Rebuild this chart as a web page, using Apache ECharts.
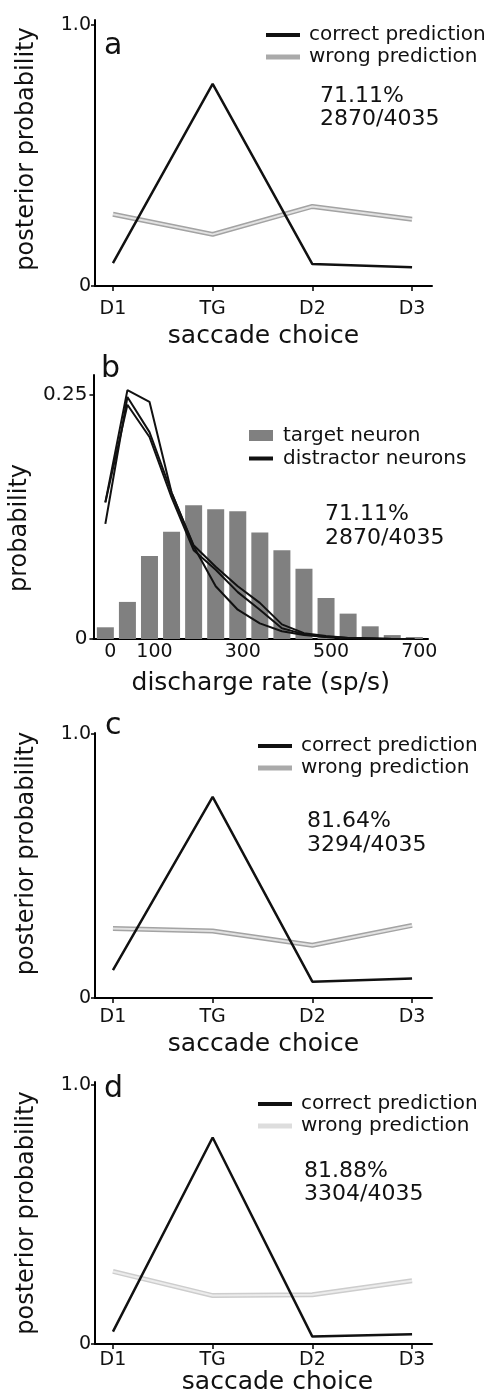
<!DOCTYPE html>
<html>
<head>
<meta charset="utf-8">
<script src="https://cdn.jsdelivr.net/npm/echarts@6/dist/echarts.min.js"></script>
<style>
    html, body { margin: 0; padding: 0; background: #fff; }
    #main { width: 495px; height: 1396px; }
</style>
</head>
<body>
<div id="main"></div>
<script>
var choices = ['D1', 'TG', 'D2', 'D3']
var choiceX = [0, 1, 2, 3]

// a: posterior, all neurons
var correctA = [0.088, 0.775, 0.084, 0.072]
var wrongA = [0.275, 0.198, 0.305, 0.256]
// c
var correctC = [0.106, 0.762, 0.062, 0.074]
var wrongC = [0.263, 0.254, 0.200, 0.275]
// d
var correctD = [0.048, 0.796, 0.029, 0.038]
var wrongD = [0.280, 0.187, 0.190, 0.244]

// b: discharge rate histogram (bin centres, sp/s)
var rateBins = [0, 50, 100, 150, 200, 250, 300, 350, 400, 450, 500, 550, 600, 650, 700]
var targetProb = [0.012, 0.038, 0.085, 0.110, 0.137, 0.133, 0.131, 0.109, 0.091, 0.072, 0.042, 0.026, 0.013, 0.004, 0.002]
var distractor1 = [0.140, 0.255, 0.243, 0.150, 0.095, 0.054, 0.030, 0.016, 0.008, 0.004, 0.002, 0.001, 0.0005, 0, 0]
var distractor2 = [0.118, 0.248, 0.212, 0.150, 0.096, 0.074, 0.054, 0.037, 0.015, 0.006, 0.003, 0.001, 0.0005, 0, 0]
var distractor3 = [0.140, 0.240, 0.207, 0.145, 0.091, 0.071, 0.048, 0.030, 0.011, 0.005, 0.002, 0.001, 0.0005, 0, 0]
var rateTicks = [0, 100, 300, 500, 700]

var stats = ['71.11%\n2870/4035', '71.11%\n2870/4035', '81.64%\n3294/4035', '81.88%\n3304/4035']

var font = 'DejaVu Sans'

function pairs(xs, ys) {
    var out = []
    for (var i = 0; i < xs.length; i++) {
        out.push([xs[i], ys[i]])
    }
    return out
}

function choiceXAxis(grid, margin, gap, namePad) {
    return {
        gridIndex: grid,
        type: 'value',
        min: -0.18,
        max: 3.2,
        name: 'saccade choice',
        nameLocation: 'middle',
        nameGap: gap,
        nameTextStyle: { fontFamily: font, fontSize: 25, color: '#111', padding: namePad || 0 },
        axisLine: { show: true, onZero: false, lineStyle: { color: '#000', width: 2 } },
        axisTick: { show: true, length: 5, customValues: choiceX, lineStyle: { color: '#000', width: 1.5 } },
        axisLabel: {
            customValues: choiceX, margin: margin,
            fontFamily: font, fontSize: 19, color: '#111',
            formatter: function (v) { return choices[Math.round(v)] }
        },
        splitLine: { show: false }
    }
}

function probYAxis(grid, max, pad) {
    return {
        gridIndex: grid,
        type: 'value',
        min: 0,
        max: max,
        name: 'posterior probability',
        nameLocation: 'middle',
        nameGap: 56,
        nameTextStyle: { fontFamily: font, fontSize: 24, color: '#111', padding: pad || 0 },
        axisLine: { show: true, onZero: false, lineStyle: { color: '#000', width: 2 } },
        axisTick: { show: true, length: 4, customValues: [0, 1], lineStyle: { color: '#000', width: 1.5 } },
        axisLabel: {
            customValues: [0, 1], margin: 4,
            fontFamily: font, fontSize: 19, color: '#111',
            formatter: function (v) { return v === 0 ? '0' : '1.0' }
        },
        splitLine: { show: false }
    }
}

// the wrong-prediction trace is a grey outline with a pale core
function postSeries(idx, correct, wrong, outer, inner) {
    return [
        {
            name: 'wrong prediction', type: 'line', xAxisIndex: idx, yAxisIndex: idx,
            data: pairs(choiceX, wrong), symbol: 'none', silent: true,
            lineStyle: { color: outer, width: 5 }, z: 2
        },
        {
            name: 'wrong core', type: 'line', xAxisIndex: idx, yAxisIndex: idx,
            data: pairs(choiceX, wrong), symbol: 'none', silent: true,
            lineStyle: { color: inner, width: 2 }, z: 3
        },
        {
            name: 'correct prediction', type: 'line', xAxisIndex: idx, yAxisIndex: idx,
            data: pairs(choiceX, correct), symbol: 'none', silent: true,
            lineStyle: { color: '#111', width: 2.5 }, z: 4
        }
    ]
}

function postLegend(left, top, wrongColor) {
    return {
        orient: 'vertical', left: left, top: top, padding: 0,
        itemWidth: 34, itemHeight: 5, itemGap: 0,
        selectedMode: false,
        textStyle: { fontFamily: font, fontSize: 20, color: '#111', lineHeight: 22, padding: [0, 0, 0, 4] },
        data: [
            { name: 'correct prediction', icon: 'path://M0,0.5H34V4.5H0Z', itemStyle: { color: '#111', borderWidth: 0 } },
            { name: 'wrong prediction', icon: 'path://M0,0H34V5H0Z', itemStyle: { color: wrongColor, borderWidth: 0 } }
        ]
    }
}

function label(text, left, top, size, lh) {
    return {
        text: text, left: left, top: top, padding: 0,
        textStyle: { fontFamily: font, fontSize: size, fontWeight: 'normal', color: '#111', lineHeight: lh }
    }
}

var chart = echarts.init(document.getElementById('main'), null, { renderer: 'canvas' })

var option = {
    backgroundColor: '#fff',
    animation: false,
    title: [
        label('a', 104, 31, 30, 30),
        label('b', 101, 354, 30, 30),
        label('c', 105, 711, 30, 30),
        label('d', 104, 1074, 30, 30),
        label(stats[0], 320, 85, 22, 23),
        label(stats[1], 325, 502, 22, 24),
        label(stats[2], 307, 809, 22, 24),
        label(stats[3], 304, 1160, 22, 23)
    ],
    legend: [
        postLegend(266, 24, '#aaaaaa'),
        {
            orient: 'vertical', left: 249, top: 424, padding: 0,
            itemWidth: 24, itemHeight: 11, itemGap: 0,
            selectedMode: false,
            textStyle: { fontFamily: font, fontSize: 20, color: '#111', lineHeight: 23, padding: [0, 0, 0, 5] },
            data: [
                { name: 'target neuron', icon: 'rect', itemStyle: { color: '#808080', borderWidth: 0 } },
                { name: 'distractor neurons', icon: 'path://M0,3.5H24V7.5H0Z', itemStyle: { color: '#111', borderWidth: 0 } }
            ]
        },
        postLegend(258, 735, '#aaaaaa'),
        postLegend(258, 1093, '#dddddd')
    ],
    grid: [
        { left: 95, top: 20, width: 337, height: 266 },
        { left: 93, top: 375, width: 335, height: 264 },
        { left: 95, top: 733, width: 337, height: 265 },
        { left: 95, top: 1082, width: 337, height: 264 }
    ],
    xAxis: [
        choiceXAxis(0, 14, 38),
        {
            gridIndex: 1,
            type: 'value',
            min: -27,
            max: 731,
            name: 'discharge rate (sp/s)',
            nameLocation: 'middle',
            nameGap: 32,
            nameTextStyle: { fontFamily: font, fontSize: 25, color: '#111' },
            axisLine: { show: true, onZero: false, lineStyle: { color: '#000', width: 2 } },
            axisTick: { show: false },
            axisLabel: {
                customValues: rateTicks, margin: 4, padding: [0, 0, 0, 10],
                fontFamily: font, fontSize: 19, color: '#111'
            },
            splitLine: { show: false }
        },
        choiceXAxis(2, 10, 34),
        choiceXAxis(3, 6, 23, [0, 0, 0, 28])
    ],
    yAxis: [
        probYAxis(0, 1.02, [0, 0, 0, 8]),
        {
            gridIndex: 1,
            type: 'value',
            min: 0,
            max: 0.2705,
            name: 'probability',
            nameLocation: 'middle',
            nameGap: 54,
            nameTextStyle: { fontFamily: font, fontSize: 24, color: '#111', padding: [0, 42, 0, 0] },
            axisLine: { show: true, onZero: false, lineStyle: { color: '#000', width: 2 } },
            axisTick: { show: true, length: 4, customValues: [0, 0.25], lineStyle: { color: '#000', width: 1.5 } },
            axisLabel: {
                customValues: [0, 0.25], margin: 6,
                fontFamily: font, fontSize: 20, color: '#111',
                formatter: function (v) { return v === 0 ? '0' : '0.25' }
            },
            splitLine: { show: false }
        },
        probYAxis(2, 1.004, [0, 0, 0, 24]),
        probYAxis(3, 1.01)
    ],
    series: [].concat(
        postSeries(0, correctA, wrongA, '#a3a3a3', '#e2e2e2'),
        [
            {
                name: 'target neuron', type: 'bar', xAxisIndex: 1, yAxisIndex: 1,
                data: pairs(rateBins, targetProb), barWidth: 17, silent: true,
                itemStyle: { color: '#808080' }, z: 2
            },
            {
                name: 'distractor neurons', type: 'line', xAxisIndex: 1, yAxisIndex: 1,
                data: pairs(rateBins, distractor1), symbol: 'none', silent: true,
                lineStyle: { color: '#111', width: 2 }, z: 3
            },
            {
                name: 'distractor neurons', type: 'line', xAxisIndex: 1, yAxisIndex: 1,
                data: pairs(rateBins, distractor2), symbol: 'none', silent: true,
                lineStyle: { color: '#111', width: 2 }, z: 3
            },
            {
                name: 'distractor neurons', type: 'line', xAxisIndex: 1, yAxisIndex: 1,
                data: pairs(rateBins, distractor3), symbol: 'none', silent: true,
                lineStyle: { color: '#111', width: 2 }, z: 3
            }
        ],
        postSeries(2, correctC, wrongC, '#a3a3a3', '#e2e2e2'),
        postSeries(3, correctD, wrongD, '#cdcdcd', '#ececec')
    )
}

chart.setOption(option)
window.addEventListener('resize', function () {
    chart.resize()
})
</script>
</body>
</html>
